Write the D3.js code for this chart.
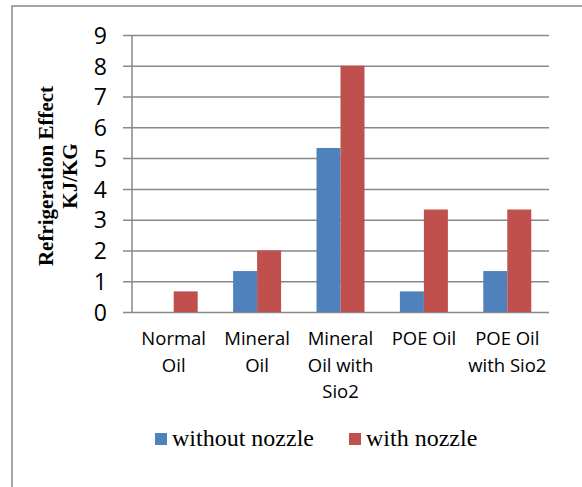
<!DOCTYPE html>
<html><head><meta charset="utf-8">
<script src="https://cdn.jsdelivr.net/npm/d3@7"></script>
<style>body{margin:0;background:#fff;}svg{display:block;}</style>
</head><body>
<svg id="c" width="582" height="487"></svg>
<script>
const categories = [["Normal","Oil"],["Mineral","Oil"],["Mineral","Oil with","Sio2"],["POE Oil"],["POE Oil","with Sio2"]];
const seriesNames = ["without nozzle","with nozzle"];
const withoutNozzle = [0, 1.33, 5.33, 0.67, 1.33];
const withNozzle = [0.67, 2, 8, 3.33, 3.33];
const yTicks = [0,1,2,3,4,5,6,7,8,9];
const colors = ["#4F81BD","#C0504D"];

const svg = d3.select("#c");
const grid = "#888888";
svg.append("rect").attr("x",12).attr("y",6).attr("width",600).attr("height",520)
  .attr("fill","none").attr("stroke",grid).attr("stroke-width",1.5);

const L=132, R=549, T=35, B=312;
const y = d3.scaleLinear().domain([0,9]).range([B,T]);
const catIdx = categories.map((c,i)=>i);
const x0 = d3.scaleBand().domain(catIdx).range([L,R]).paddingInner(0.4245).paddingOuter(0.21225);
const x1 = d3.scaleBand().domain([0,1]).range([0,x0.bandwidth()]);

const yAxis = d3.axisLeft(y).tickValues(yTicks).tickSize(-(R-L)).tickFormat(d3.format("d"));
const gy = svg.append("g").attr("transform",`translate(${L},0)`).call(yAxis);
gy.select(".domain").remove();
gy.selectAll(".tick line").attr("x1",-9).attr("stroke",grid).attr("stroke-width",1.5);
gy.selectAll(".tick text").attr("x",-25).attr("dy","0.36em")
  .attr("font-family","Open Sans, sans-serif").attr("font-size",23).attr("fill","#000");
svg.append("line").attr("x1",L).attr("x2",L).attr("y1",T).attr("y2",B)
  .attr("stroke",grid).attr("stroke-width",1.5);

const data = categories.map((c,i)=>[withoutNozzle[i], withNozzle[i]]);
const groups = svg.append("g").selectAll("g").data(data).join("g")
  .attr("transform",(d,i)=>`translate(${x0(i)},0)`);
groups.selectAll("rect").data(d=>d.map((v,k)=>({v,k}))).join("rect")
  .attr("x",d=>x1(d.k)).attr("width",x1.bandwidth())
  .attr("y",d=>y(d.v)).attr("height",d=>B-y(d.v))
  .attr("fill",d=>colors[d.k]);

const xl = svg.append("g");
categories.forEach((lines,i)=>{
  const cx = x0(i)+x0.bandwidth()/2;
  const t = xl.append("text").attr("text-anchor","middle")
    .attr("font-family","Open Sans, sans-serif").attr("font-size",18.5).attr("fill","#000");
  lines.forEach((ln,j)=>t.append("tspan").attr("x",cx).attr("y",345+j*26.5).text(ln));
});

const yt = svg.append("text").attr("transform","translate(53,176) rotate(-90)")
  .attr("text-anchor","middle").attr("font-family","Liberation Serif, Times New Roman, serif")
  .attr("font-weight","bold").attr("font-size",21).attr("fill","#000");
yt.append("tspan").attr("x",0).attr("y",0).text("Refrigeration Effect");
yt.append("tspan").attr("x",0).attr("y",24).text("KJ/KG");

const legX = [155, 349];
seriesNames.forEach((n,k)=>{
  svg.append("rect").attr("x",legX[k]).attr("y",433).attr("width",12).attr("height",12).attr("fill",colors[k]);
  svg.append("text").attr("x",legX[k]+17).attr("y",446)
    .attr("font-family","Liberation Serif, Times New Roman, serif").attr("font-size",24).attr("fill","#000").text(n);
});
</script>
</body></html>
